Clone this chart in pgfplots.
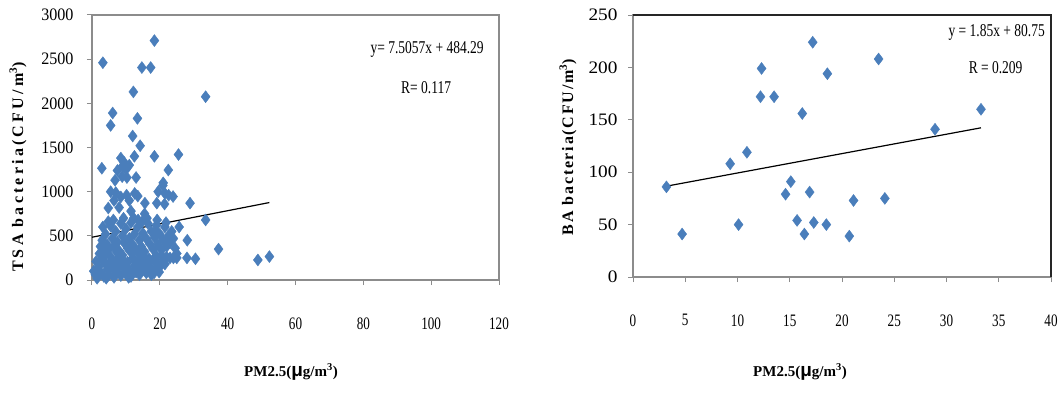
\documentclass[border=0pt]{standalone}
\usepackage{fontspec}
\setmainfont{Liberation Serif}
\newfontfamily\fa{Liberation Serif}[FakeStretch=0.75]
\newfontfamily\fb{Liberation Serif}[FakeStretch=0.92]
\newfontfamily\fc{Liberation Serif}[FakeStretch=1.1]
\newfontfamily\labA{Liberation Serif}[LetterSpace=20]
\newfontfamily\labB{Liberation Serif}[LetterSpace=11]
\newfontfamily\musans{Liberation Sans}
\usepackage{pgfplots}
\pgfplotsset{compat=1.18}
\definecolor{mk}{HTML}{4A7EBB}
\definecolor{ax}{HTML}{8C8C8C}
\pgfplotsset{myax/.style={
  scale only axis, clip=false,
  axis line style={ax, line width=1.3pt},
  tick style={ax, line width=1pt},
  tick align=outside, major tick length=5pt,
  xtick pos=bottom, ytick pos=left,
  /pgf/number format/assume math mode=true,
  /pgf/number format/1000 sep={},
  scaled ticks=false,
  xticklabel style={font=\fa\fontsize{17.5}{20}\selectfont, yshift=-29pt},
}}
\begin{document}
\begin{tikzpicture}
\useasboundingbox (0pt,0pt) rectangle (1063pt,397pt);

% ---------- left chart ----------
\begin{axis}[myax, at={(92pt,117pt)}, anchor=south west,
  width=407pt, height=265pt,
  xmin=0, xmax=120, ymin=0, ymax=3000,
  xtick={0,20,...,120}, ytick={0,500,...,3000},
  yticklabel style={font=\fb\fontsize{17.5}{20}\selectfont, xshift=-10pt}]
\addplot[only marks, mark=diamond*, mark size=6pt, mark options={fill=mk, draw=mk}] coordinates {
(3.2,2460)(18.4,2710)(14.7,2405)(17.3,2405)(12.2,2130)(33.5,2075)(6.1,1890)(5.5,1750)
(13.4,1830)(12.0,1630)(14.2,1520)(2.9,1265)(18.4,1400)(25.5,1420)(22.5,1245)(8.5,1380)
(9.5,1330)(11,1300)(12.5,1400)(10,1250)(9,1290)(7.5,1240)(8.9,1170)(10.3,1160)(13,1160)
(6.8,1130)(28.9,870)(33.5,680)(37.3,350)(48.9,227)(52.3,265)(30.5,240)(28,250)(25,250)
(23,250)(28.1,450)(25.7,600)(22.6,960)(20.9,1070)(21.5,980)(21.4,860)(19.1,870)(15.6,870)(15.5,750)
(4.8,815)(5.5,1000)(7,990)(8.5,940)(10.2,960)(11,900)(12.6,980)(6.5,900)(13.5,950)
(19.5,1000)(21,1100)(23.9,945)(13.6,680)(8,820)(11.5,780)
(0.5,100)(1,60)(1.5,20)(2,150)(2.5,90)(3,230)(3.5,40)(4,180)(4.5,120)(5,60)(5.5,260)
(6,150)(6.5,30)(7,210)(7.5,90)(8,170)(8.5,50)(9,280)(9.5,130)(10,70)(10.5,200)(11,110)
(11.5,40)(12,250)(12.5,160)(13,90)(13.5,220)(14,60)(14.5,170)(15,120)(15.5,260)(16,80)
(16.5,190)(17,150)(17.5,60)(18,230)(18.3,80)(18.5,120)(19,270)(19.5,180)(20,150)(21,230)
(21.5,180)(22,260)(24,250)(2.2,300)(3.8,280)(5.2,200)(6.8,100)(8.2,240)(9.8,190)
(11.8,300)(13.2,140)(15.8,210)(17.8,100)(20.5,280)(1.2,210)(4.2,20)(7.8,160)(10.8,30)
(14.2,280)(16.8,240)(19.8,90)
(2.5,380)(3,450)(3.5,330)(4,520)(4.5,400)(5,350)(5.5,610)(6,470)(6.5,380)(7,550)
(7.5,430)(8,330)(8.5,640)(9,500)(9.5,420)(10,580)(10.5,360)(11,470)(11.5,650)(12,400)
(12.5,520)(13,340)(13.5,600)(14,450)(14.5,380)(15,530)(15.5,320)(16,470)(16.5,640)
(17,410)(17.5,550)(18,350)(18.5,480)(19,620)(19.5,400)(20,520)(20.5,340)(21,450)
(21.5,600)(22,380)(22.5,500)(23,420)(24,470)(24.5,360)(25,300)(3.2,600)(6.3,680)
(9.3,700)(12.3,700)(16.2,700)(19.2,680)(21.8,650)(7.2,320)(11.2,330)(14.8,660)
(18.8,560)(4.8,660)(23.5,550)
};
\addplot[black, line width=1.2pt] coordinates {(0,484.29)(52.3,876.84)};
\node[font=\fa\fontsize{18}{20}\selectfont] at (axis cs:98.8,2605) {y= 7.5057x + 484.29};
\node[font=\fa\fontsize{18}{20}\selectfont] at (axis cs:98.5,2174) {R= 0.117};
\end{axis}

% ---------- right chart ----------
\begin{axis}[myax, at={(633pt,120pt)}, anchor=south west,
  width=418pt, height=262pt,
  xmin=0, xmax=40, ymin=0, ymax=250,
  xtick={0,5,...,40}, ytick={0,50,...,250},
  yticklabel style={font=\fc\fontsize{17.5}{20}\selectfont, xshift=-7pt}]
\addplot[only marks, mark=diamond*, mark size=6pt, mark options={fill=mk, draw=mk}] coordinates {
(3.2,86)(4.7,41)(9.3,108)(10.1,50)(10.9,119)(12.3,199)(12.2,172)(13.5,172)(16.2,156)
(17.2,224)(14.6,79)(15.1,91)(15.7,54)(16.4,41)(16.9,81)(17.3,52)(18.6,194)(23.5,208)
(21.1,73)(24.1,75)(18.5,50)(20.7,39)(28.9,141)(33.3,160)
};
\addplot[black, line width=1.2pt] coordinates {(3.2,86.67)(33.3,142.36)};
\draw[black!85, line width=1.3pt] (rel axis cs:0,1) -- (rel axis cs:1,1) -- (rel axis cs:1,0);
\node[font=\fa\fontsize{18}{20}\selectfont] at (axis cs:34.8,233.8) {y = 1.85x + 80.75};
\node[font=\fa\fontsize{18}{20}\selectfont] at (axis cs:34.7,199.4) {R = 0.209};
\end{axis}

% ---------- axis titles ----------
\node[rotate=90, font=\labA\bfseries\fontsize{16}{18}\selectfont] at (18pt,230pt) {TSA bacteria(CFU/m\textsuperscript{3})};
\node[rotate=90, font=\labB\bfseries\fontsize{16}{18}\selectfont] at (568pt,250pt) {BA bacteria(CFU/m\textsuperscript{3})};
\node[font=\bfseries\fontsize{15}{18}\selectfont] at (291pt,25pt) {PM2.5({\musans\bfseries\fontsize{19}{18}\selectfont μ}g/m\textsuperscript{3})};
\node[font=\bfseries\fontsize{15}{18}\selectfont] at (800pt,25pt) {PM2.5({\musans\bfseries\fontsize{19}{18}\selectfont μ}g/m\textsuperscript{3})};
\end{tikzpicture}
\end{document}
